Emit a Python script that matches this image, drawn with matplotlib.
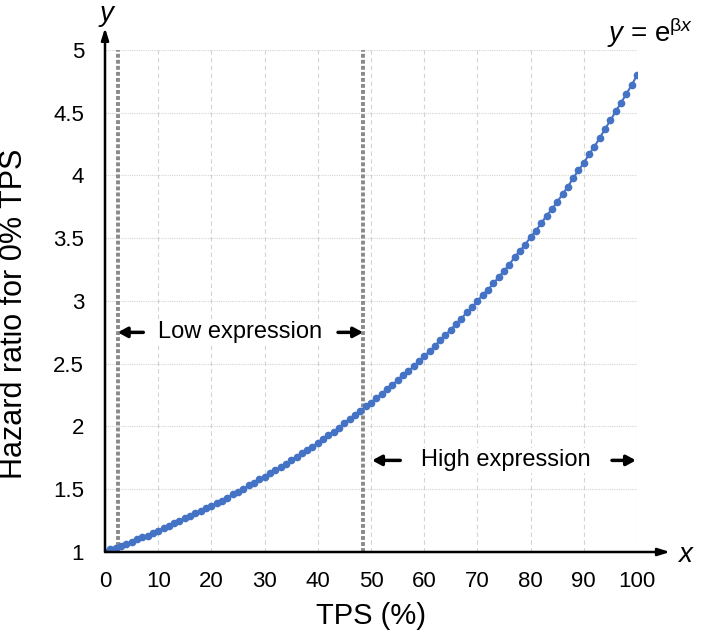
import matplotlib
matplotlib.use('Agg')
import matplotlib.pyplot as plt

plt.rcParams['font.family'] = ['Liberation Sans', 'DejaVu Sans']
plt.rcParams['mathtext.fontset'] = 'custom'
plt.rcParams['mathtext.rm'] = 'Liberation Sans'
plt.rcParams['mathtext.it'] = 'Liberation Sans:italic'

# data
tps = list(range(0, 101))
hazard = [
    1.00, 1.02, 1.03, 1.05, 1.06, 1.08, 1.10, 1.12, 1.13, 1.15,
    1.17, 1.19, 1.21, 1.23, 1.25, 1.27, 1.29, 1.31, 1.33, 1.35,
    1.37, 1.39, 1.41, 1.43, 1.46, 1.48, 1.50, 1.53, 1.55, 1.58,
    1.60, 1.63, 1.65, 1.68, 1.70, 1.73, 1.76, 1.79, 1.81, 1.84,
    1.87, 1.90, 1.93, 1.96, 1.99, 2.03, 2.06, 2.09, 2.12, 2.16,
    2.19, 2.23, 2.26, 2.30, 2.33, 2.37, 2.41, 2.44, 2.48, 2.52,
    2.56, 2.60, 2.64, 2.69, 2.73, 2.77, 2.82, 2.86, 2.91, 2.95,
    3.00, 3.05, 3.09, 3.14, 3.19, 3.24, 3.29, 3.35, 3.40, 3.45,
    3.51, 3.56, 3.62, 3.68, 3.73, 3.79, 3.85, 3.91, 3.98, 4.04,
    4.10, 4.17, 4.23, 4.30, 4.37, 4.44, 4.51, 4.58, 4.65, 4.72,
    4.80,
]
cutoffs = [2.4, 48.5]
xticks = list(range(0, 101, 10))
yticks = [1, 1.5, 2, 2.5, 3, 3.5, 4, 4.5, 5]
ytick_labels = ['1', '1.5', '2', '2.5', '3', '3.5', '4', '4.5', '5']

fig = plt.figure(figsize=(7.10, 6.35), dpi=100)
ax = fig.add_axes([0.1479, 0.1307, 0.7493, 0.7906])
ax.set_xlim(0, 100)
ax.set_ylim(1, 5)

# grid
for xv in xticks[1:]:
    ax.axvline(xv, color='#d4d4d4', lw=0.8, ls=(0, (4, 3)), zorder=0)
for yv in yticks[1:]:
    ax.axhline(yv, color='#d4d4d4', lw=0.8, ls=(0, (1, 1)), zorder=0)

# cut-off lines
for c in cutoffs:
    ax.plot([c, c], [1, 5], color='#8a8a8a', lw=2.8, ls=(0, (1, 0.55)),
            dash_capstyle='butt', zorder=2)

# curve
ax.plot(tps, hazard, '-o', color='#4472C4', lw=1.5, ms=4.5, zorder=3)

for s in ax.spines.values():
    s.set_visible(False)
ax.set_xticks(xticks)
ax.set_yticks(yticks)
ax.set_yticklabels(ytick_labels)
ax.tick_params(length=0, labelsize=16)
ax.tick_params(axis='y', pad=15)
ax.tick_params(axis='x', pad=14)

# axis arrows
arr = dict(arrowstyle='-|>,head_length=0.7,head_width=0.22', lw=1.8, color='black',
           shrinkA=0, shrinkB=0)
ax.annotate('', xy=(1.062, 0), xytext=(0, 0), xycoords='axes fraction',
            arrowprops=arr, annotation_clip=False, zorder=5)
ax.annotate('', xy=(0, 1.044), xytext=(0, 0), xycoords='axes fraction',
            arrowprops=arr, annotation_clip=False, zorder=5)
ax.text(1.092, -0.020, r'$x$', fontsize=20, ha='center', va='baseline',
        transform=ax.transAxes)
ax.text(0.005, 1.093, r'$y$', fontsize=20, ha='center', va='top',
        transform=ax.transAxes)
ax.text(1.105, 1.016, r'$y$ = e$^{\mathrm{\beta}x}$', fontsize=20, ha='right',
        va='baseline', transform=ax.transAxes)

ax.set_xlabel('TPS (%)', fontsize=21)
ax.set_ylabel('Hazard ratio for 0% TPS', fontsize=22)
ax.xaxis.set_label_coords(0.5, -0.0996)
ax.yaxis.set_label_coords(-0.143, 0.474)

# expression ranges
small = dict(arrowstyle='-|>,head_length=0.55,head_width=0.3', lw=2.5, color='black',
             shrinkA=0, shrinkB=0)
ax.annotate('', xy=(2.4, 2.75), xytext=(7.2, 2.75), arrowprops=small)
ax.annotate('', xy=(48.5, 2.75), xytext=(43.8, 2.75), arrowprops=small)
ax.text(25.4, 2.75, 'Low expression', fontsize=17, ha='center', va='center',
        bbox=dict(fc='white', ec='none', pad=1))
ax.annotate('', xy=(50.2, 1.73), xytext=(55.5, 1.73), arrowprops=small)
ax.annotate('', xy=(99.8, 1.73), xytext=(95.3, 1.73), arrowprops=small)
ax.text(75.4, 1.73, 'High expression', fontsize=17, ha='center', va='center',
        bbox=dict(fc='white', ec='none', pad=1))

fig.savefig('out.png', dpi=100)
